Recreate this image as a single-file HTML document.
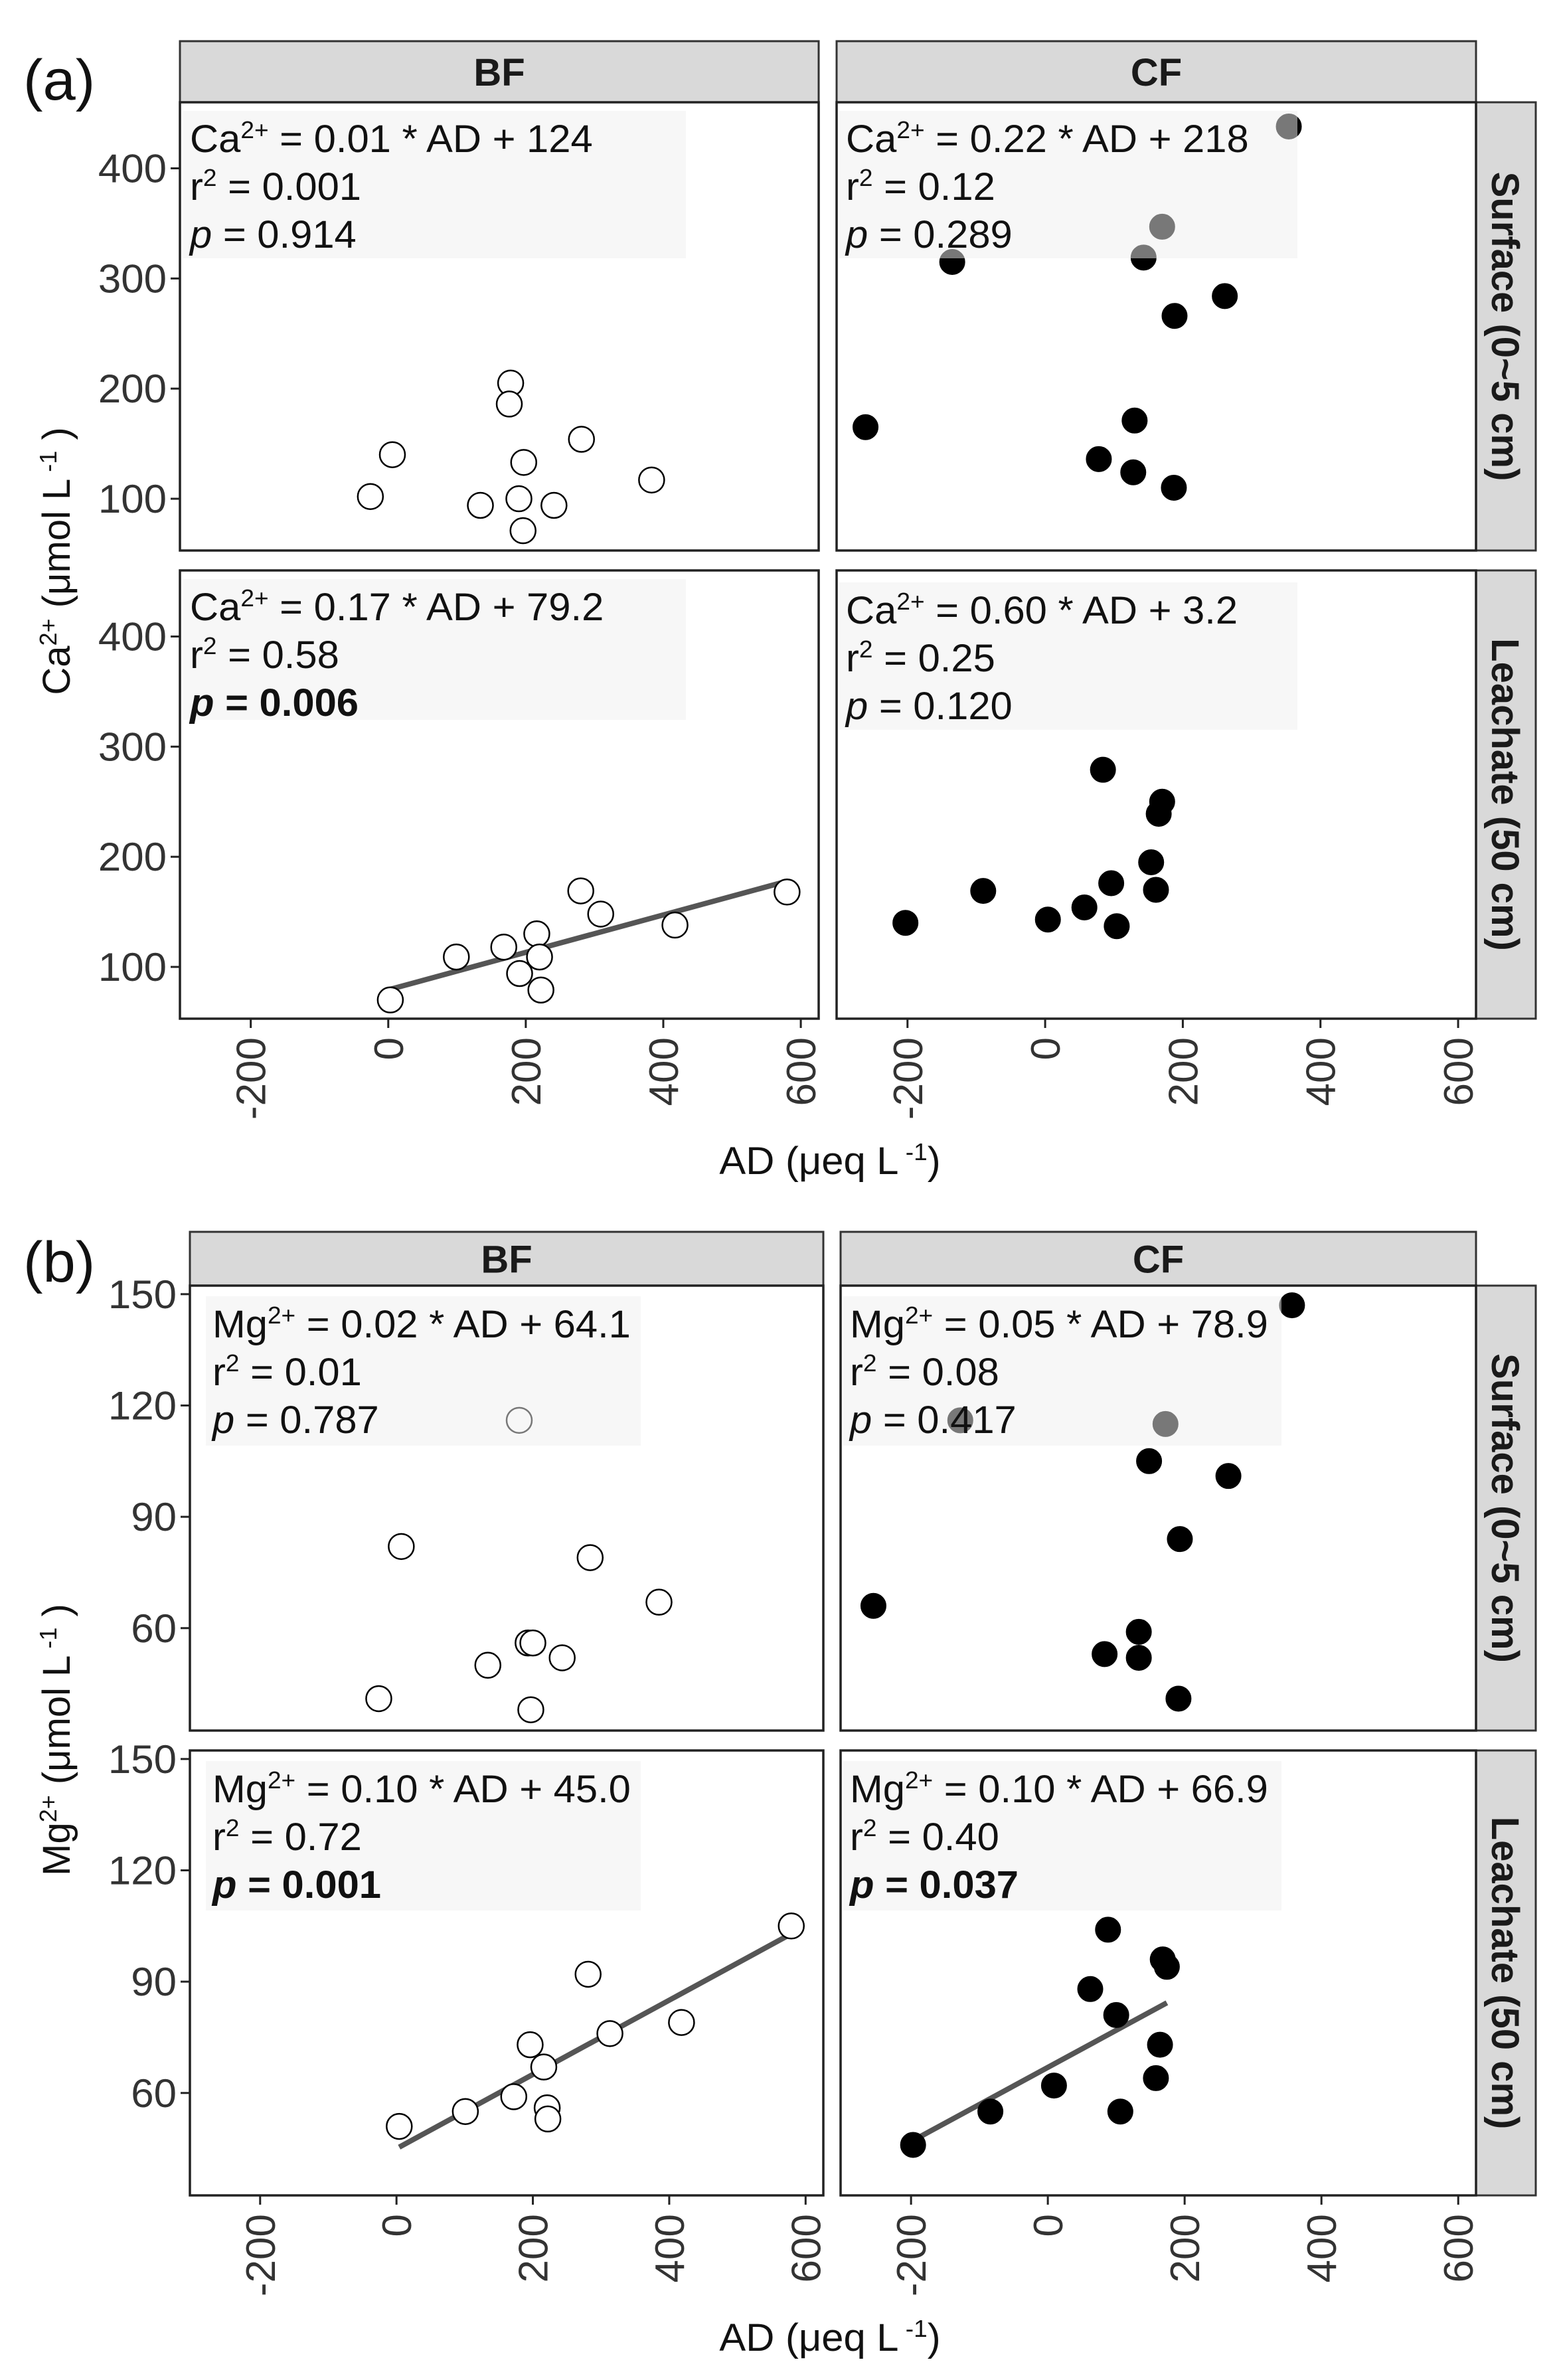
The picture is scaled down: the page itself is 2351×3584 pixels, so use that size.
<!DOCTYPE html>
<html><head><meta charset="utf-8"><style>
html,body{margin:0;padding:0;background:#fff;}
svg{display:block;font-family:"Liberation Sans",Arial,sans-serif;}
</style></head><body>
<svg id="fig" width="2351" height="3584" viewBox="0 0 2351 3584" xmlns="http://www.w3.org/2000/svg"></svg>
<script>
// ---------- data ----------
const caBFsurfX=[-26,6,134,178,176,197,190,196,241,281,383];
const caBFsurfY=[102,140,94,205,186,133,100,71,94,154,117];
const caCFsurfX=[-261,-135,143,170,354,261,188,130,78,128,187];
const caCFsurfY=[165,315,319,347,438,284,266,171,136,124,110];
const caBFleachX=[3,99,168,191,216,220,222,280,309,417,580];
const caBFleachY=[70,109,118,94,130,109,79,169,148,138,168];
const caCFleachX=[-203,-90,4,57,84,96,104,154,161,165,170];
const caCFleachY=[140,169,143,154,279,176,137,195,170,239,250];
const mgBFsurfX=[-26,7,134,193,200,180,243,284,385,197];
const mgBFsurfY=[41,82,50,56,56,116,52,79,67,38];
const mgCFsurfX=[-255,-128,172,148,264,193,357,133,83,133,191];
const mgCFsurfY=[66,116,115,105,101,84,147,59,53,52,41];
const mgBFleachX=[4,101,172,196,216,221,222,281,313,418,579];
const mgBFleachY=[51,55,59,73,67,56,53,92,76,79,105];
const mgCFleachX=[-197,-84,9,62,88,100,106,158,164,168,174];
const mgCFleachY=[46,55,62,88,104,81,55,64,73,96,94];
const xTicks=[-200,0,200,400,600];
const caTicks=[100,200,300,400];
const mgTicks=[60,90,120,150];
const xDomain=[-303,626];
const caDomain=[53,460];
const mgDomain=[32.4,152.3];

const NS="http://www.w3.org/2000/svg";
const svg=document.getElementById('fig');
function el(tag,attrs,parent){const e=document.createElementNS(NS,tag);for(const k in attrs)e.setAttribute(k,attrs[k]);(parent||svg).appendChild(e);return e;}
const SX=1.03;
function htext(x,y,str,size,opts,parent){
  opts=opts||{};
  const t=el('text',{x:0,y:0,'font-size':size,fill:opts.fill||'#111','text-anchor':opts.anchor||'start',
    transform:`translate(${x},${y}) scale(${SX},1)`,'font-weight':opts.weight||'normal'},parent);
  t.textContent=str;return t;
}
function rich(x,y,parts,size,parent,anchor){
  const t=el('text',{x:0,y:0,'font-size':size,fill:'#111','text-anchor':anchor||'start',transform:`translate(${x},${y}) scale(${SX},1)`},parent);
  parts.forEach(p=>{
    const s=document.createElementNS(NS,'tspan');
    if(p.sup){s.setAttribute('font-size',size*0.62);s.setAttribute('dy',-size*0.36);}
    if(p.after){s.setAttribute('dy',size*0.36);}
    if(p.it)s.setAttribute('font-style','italic');
    if(p.b)s.setAttribute('font-weight','bold');
    s.textContent=p.t;t.appendChild(s);
  });
  return t;
}

function panel(name,L,R,T,B,yDom,yTicks,xs,ys,filled,showY,showX,box,lines,fit){
  const g=el('g',{});
  
  
  const xDom0=xDomain[0],xDom1=xDomain[1];
  const sx=v=>L+(v-xDom0)/(xDom1-xDom0)*(R-L);
  const sy=v=>B-(v-yDom[0])/(yDom[1]-yDom[0])*(B-T);
  el('rect',{x:L,y:T,width:R-L,height:B-T,fill:'#fff'},g);
  if(fit){
    const xmin=Math.min(...xs),xmax=Math.max(...xs);
    const ln=el('line',{x1:sx(xmin),y1:sy(fit[0]*xmin+fit[1]),x2:sx(xmax),y2:sy(fit[0]*xmax+fit[1]),stroke:'#555','stroke-width':8},g);
    
    
  }
  xs.forEach((xv,i)=>{
    const c=el('circle',{cx:sx(xv),cy:sy(ys[i]),r:19,fill:filled?'#000':'#fff',stroke:'#000','stroke-width':filled?1:2.5},g);
    
    
  });
  const bx=el('rect',{x:box[0],y:box[1],width:box[2],height:box[3],fill:'#efefef','fill-opacity':0.5},g);
  
  
  const tx=box[0]+10, ty=box[1]+62;
  lines.forEach((ln,i)=>rich(tx,ty+i*72,ln,58,g));
  el('rect',{x:L,y:T,width:R-L,height:B-T,fill:'none',stroke:'#222','stroke-width':3.5},g);
  if(showY){
    yTicks.forEach(v=>{
      el('line',{x1:L-14,x2:L,y1:sy(v),y2:sy(v),stroke:'#222','stroke-width':3},g);
      const t=htext(L-20,sy(v)+21,String(v),60,{anchor:'end',fill:'#333'},g);
      
      
    });
  }
  if(showX){
    xTicks.forEach(v=>{
      el('line',{x1:sx(v),x2:sx(v),y1:B,y2:B+14,stroke:'#222','stroke-width':3},g);
      const t=el('text',{x:0,y:0,'font-size':62,fill:'#333','text-anchor':'end',transform:`translate(${sx(v)+22},${B+28}) rotate(-90)`},g);
      t.textContent=String(v);
      
      
    });
  }
}
function strip(x,y,w,h,label,vertical){
  const r=el('rect',{x:x,y:y,width:w,height:h,fill:'#d9d9d9',stroke:'#333','stroke-width':3});
  
  
  let t;
  if(vertical){
    t=el('text',{x:0,y:0,'font-size':58,'font-weight':'bold',fill:'#1a1a1a','text-anchor':'middle',transform:`translate(${x+w/2-21},${y+h/2}) rotate(90)`});
  } else {
    t=el('text',{x:0,y:0,'font-size':58,'font-weight':'bold',fill:'#1a1a1a','text-anchor':'middle',transform:`translate(${x+w/2},${y+h/2+21})`});
  }
  t.textContent=label;
  
  
}
function eq(ion,slope,icpt){return [{t:ion},{t:'2+',sup:true},{t:' = '+slope+' * AD + '+icpt,after:true}];}
function r2(v){return [{t:'r'},{t:'2',sup:true},{t:' = '+v,after:true}];}
function pv(v,bold){return bold?[{t:'p',it:true,b:true},{t:' = '+v,b:true}]:[{t:'p',it:true},{t:' = '+v}];}

// ---------- (a) ----------
const A={L1:271,R1:1233,L2:1260,R2:2223,T1:154,B1:829,T2:859,B2:1534};
strip(A.L1,62,A.R1-A.L1,92,'BF');
strip(A.L2,62,A.R2-A.L2,92,'CF');
strip(A.R2,A.T1,90,A.B1-A.T1,'Surface (0~5 cm)',true);
strip(A.R2,A.T2,90,A.B2-A.T2,'Leachate (50 cm)',true);
panel('ca-bf-surface',A.L1,A.R1,A.T1,A.B1,caDomain,caTicks,caBFsurfX,caBFsurfY,false,true,false,[276,167,757,222],[eq('Ca','0.01','124'),r2('0.001'),pv('0.914')]);
panel('ca-cf-surface',A.L2,A.R2,A.T1,A.B1,caDomain,caTicks,caCFsurfX,caCFsurfY,true,false,false,[1264,167,690,222],[eq('Ca','0.22','218'),r2('0.12'),pv('0.289')]);
panel('ca-bf-leachate',A.L1,A.R1,A.T2,A.B2,caDomain,caTicks,caBFleachX,caBFleachY,false,true,true,[276,872,757,212],[eq('Ca','0.17','79.2'),r2('0.58'),pv('0.006',true)],[0.17,79.2]);
panel('ca-cf-leachate',A.L2,A.R2,A.T2,A.B2,caDomain,caTicks,caCFleachX,caCFleachY,true,false,true,[1264,877,690,222],[eq('Ca','0.60','3.2'),r2('0.25'),pv('0.120')]);

// ---------- (b) ----------
const Bp={L1:286,R1:1240,L2:1266,R2:2223,T1:1936,B1:2606,T2:2636,B2:3306};
strip(Bp.L1,1855,Bp.R1-Bp.L1,81,'BF');
strip(Bp.L2,1855,Bp.R2-Bp.L2,81,'CF');
strip(Bp.R2,Bp.T1,90,Bp.B1-Bp.T1,'Surface (0~5 cm)',true);
strip(Bp.R2,Bp.T2,90,Bp.B2-Bp.T2,'Leachate (50 cm)',true);
panel('mg-bf-surface',Bp.L1,Bp.R1,Bp.T1,Bp.B1,mgDomain,mgTicks,mgBFsurfX,mgBFsurfY,false,true,false,[310,1952,655,225],[eq('Mg','0.02','64.1'),r2('0.01'),pv('0.787')]);
panel('mg-cf-surface',Bp.L2,Bp.R2,Bp.T1,Bp.B1,mgDomain,mgTicks,mgCFsurfX,mgCFsurfY,true,false,false,[1270,1952,660,225],[eq('Mg','0.05','78.9'),r2('0.08'),pv('0.417')]);
panel('mg-bf-leachate',Bp.L1,Bp.R1,Bp.T2,Bp.B2,mgDomain,mgTicks,mgBFleachX,mgBFleachY,false,true,true,[310,2652,655,225],[eq('Mg','0.10','45.0'),r2('0.72'),pv('0.001',true)],[0.10,45.0]);
panel('mg-cf-leachate',Bp.L2,Bp.R2,Bp.T2,Bp.B2,mgDomain,mgTicks,mgCFleachX,mgCFleachY,true,false,true,[1270,2652,660,225],[eq('Mg','0.10','66.9'),r2('0.40'),pv('0.037',true)],[0.10,66.9]);

// ---------- titles ----------
function label(x,y,str,size,name){const t=htext(x,y,str,size,{});}
label(35,150,'(a)',86,'panel-label-a');
label(35,1930,'(b)',86,'panel-label-b');
function xtitle(cx,y,name){
  const t=rich(cx,y,[{t:'AD (μeq L'},{t:' -1',sup:true},{t:')',after:true}],58,null,'middle');
  
}
xtitle(1250,1768,'x-axis-title-a');
xtitle(1250,3540,'x-axis-title-b');
function ytitle(x,cy,ion,name){
  const t=el('text',{x:0,y:0,'font-size':58,fill:'#111','text-anchor':'middle',transform:`translate(${x},${cy}) rotate(-90)`});
  [[ion,0],['2+',1],[' (μmol L',2],[' -1',1],[' )',2]].forEach(p=>{
    const s=document.createElementNS(NS,'tspan');
    if(p[1]===1){s.setAttribute('font-size',36);s.setAttribute('dy',-20);}
    if(p[1]===2){s.setAttribute('dy',20);}
    s.textContent=p[0];t.appendChild(s);
  });
  
}
ytitle(105,845,'Ca','y-axis-title-a');
ytitle(105,2620,'Mg','y-axis-title-b');
</script>
</body></html>
